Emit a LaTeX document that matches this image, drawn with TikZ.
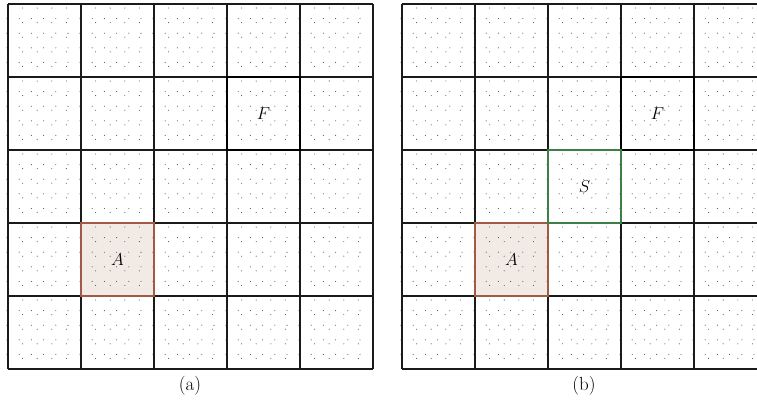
\documentclass[tikz,border=0pt]{standalone}
\usepackage{tikz}
\usepackage{xcolor}
\usetikzlibrary{calc}
\definecolor{gridline}{HTML}{1A1A1A}
\definecolor{startbrown}{HTML}{A35A45}
\definecolor{startfill}{HTML}{F2EAE4}
\definecolor{stepgreen}{HTML}{3C8048}
\definecolor{dotgray}{HTML}{555555}

\tikzset{
  cellline/.style={gridline,line width=1.2pt},
  startcell/.style={draw=startbrown,line width=2.2pt},
  goalcell/.style={draw=black,line width=2.3pt},
  stepcell/.style={draw=stepgreen,line width=1.8pt},
  celltag/.style={font=\fontsize{18}{20}\selectfont},
  paneltag/.style={font=\fontsize{19}{22}\selectfont}
}
% dotted texture of a 5x5 board, cell = 73
\newcommand{\boarddots}{%
  \foreach \c in {0,...,4}{\foreach \r in {0,...,4}{%
    \foreach \i in {1,...,4}{\foreach \j in {0,...,4}{%
      \fill[dotgray] (\c*73+\i*14.6,\r*73+\j*14.6+4) circle (0.55pt);}}
    \foreach \i in {0,...,5}{\foreach \j in {1,...,4}{%
      \fill[dotgray] (\c*73+\i*12.2-1,\r*73+\j*14.6) circle (0.55pt);}}
  }}}
\newcommand{\boardlines}{%
  \foreach \k in {0,...,5}{%
    \draw[cellline] (\k*73,0) -- (\k*73,365);
    \draw[cellline] (0,\k*73) -- (365,\k*73);}}

\begin{document}
\begin{tikzpicture}[x=1pt,y=-1pt,line width=1pt]
\useasboundingbox (0,0) rectangle (757,413);

% (a)
\begin{scope}[shift={(8,4)}]
\fill[startfill] (73,219) rectangle (146,292);
\boarddots
\boardlines
\draw[startcell] (73,219) rectangle (146,292);
\draw[goalcell] (219,73) rectangle (292,146);
\node[celltag] (startA) at (109.5,255.5) {$A$};
\node[celltag] (goalA) at (255.5,109.5) {$F$};
\end{scope}
\node[paneltag] (tagA) at (190,386) {(a)};

% (b)
\begin{scope}[shift={(402,4)}]
\clip (-3,-3) rectangle (355,370);
\fill[startfill] (73,219) rectangle (146,292);
\boarddots
\boardlines
\draw[startcell] (73,219) rectangle (146,292);
\draw[goalcell] (219,73) rectangle (292,146);
\draw[stepcell] (146,146) rectangle (219,219);
\node[celltag] (startB) at (109.5,255.5) {$A$};
\node[celltag] (goalB) at (255.5,109.5) {$F$};
\node[celltag] (stepB) at (182.5,182.5) {$S$};
\end{scope}
\node[paneltag] (tagB) at (584,386) {(b)};
\end{tikzpicture}
\end{document}
